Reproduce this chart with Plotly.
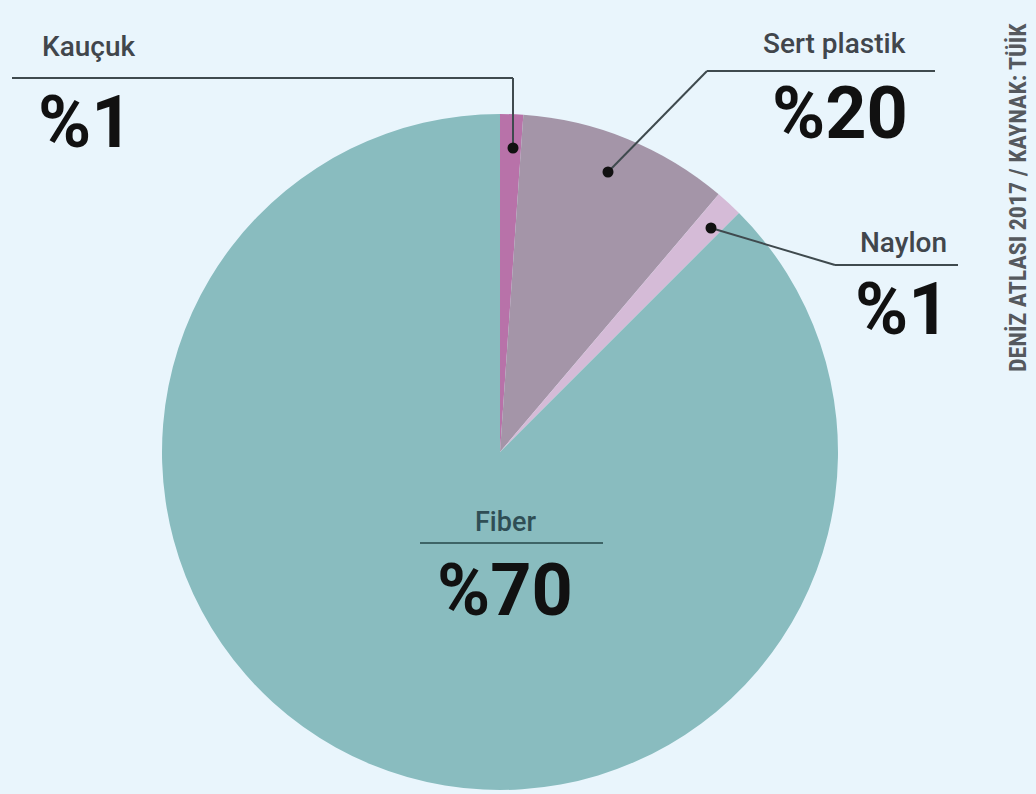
import plotly.graph_objects as go

# ---- data ----
categories = ["Kauçuk", "Sert plastik", "Naylon", "Fiber"]
drawn_share = [1.1, 10.1, 1.3, 87.5]          # slice sizes as drawn in the picture
label_pct = ["%1", "%20", "%1", "%70"]          # percentages printed on the chart
slice_colors = ["#B872A9", "#A495A8", "#D5BBD7", "#89BCBF"]
source_text = "DENİZ ATLASI 2017 / KAYNAK: TÜİK"

W, H = 1036, 794
BG = "#E9F5FC"
LBL = "#41464C"
NUM = "#111111"


def px(x):
    return x / W


def py(y):
    return 1 - y / H


cx, cy, r = 500, 452, 338

fig = go.Figure(go.Pie(
    labels=categories,
    values=drawn_share,
    sort=False,
    direction="clockwise",
    rotation=0,
    marker=dict(colors=slice_colors, line=dict(width=0)),
    textinfo="none",
    hoverinfo="label",
    showlegend=False,
    domain=dict(x=[px(cx - r), px(cx + r)], y=[py(cy + r), py(cy - r)]),
))

shapes = []

def seg(x0, y0, x1, y1, color="#3F4A4E", width=2):
    shapes.append(dict(type="line", xref="paper", yref="paper",
                       x0=px(x0), y0=py(y0), x1=px(x1), y1=py(y1),
                       line=dict(color=color, width=width)))

def dot(x, y, rr=5.5):
    shapes.append(dict(type="circle", xref="paper", yref="paper",
                       x0=px(x - rr), y0=py(y + rr), x1=px(x + rr), y1=py(y - rr),
                       fillcolor="#111111", line=dict(width=0)))

# Kauçuk leader
seg(12, 78, 513, 78)
seg(513, 78, 513, 148)
dot(513, 148)
# Sert plastik leader
seg(707, 71, 935, 71)
seg(707, 71, 608, 172)
dot(608, 172)
# Naylon leader
seg(711, 228, 835, 265)
seg(835, 265, 958, 265)
dot(711, 228)
# Fiber underline
seg(420, 543, 603, 543, color="#3E6466")

annotations = []

def txt(x, y, s, size, color, bold=False, xanchor="left", weight=None,
        family="Roboto"):
    f = dict(family=family, size=size, color=color)
    if weight:
        f["weight"] = weight
    annotations.append(dict(
        x=px(x), y=py(y), xref="paper", yref="paper", text=(f"<b>{s}</b>" if bold else s),
        showarrow=False, xanchor=xanchor, yanchor="middle", font=f))

NARROW = "Liberation Sans Narrow, Roboto Condensed, Roboto"

# category labels
txt(40, 47, categories[0], 28, LBL, weight=500)
txt(908, 44, categories[1], 28, LBL, xanchor="right", weight=500)
txt(949, 243, categories[2], 28, LBL, xanchor="right", weight=500)
txt(505, 522, categories[3], 27, "#2F4E55", xanchor="center", weight=500)

# percentages
txt(36, 122, label_pct[0], 72, NUM, bold=True)
txt(910, 113, label_pct[1], 72, NUM, bold=True, xanchor="right")
txt(952, 309, label_pct[2], 72, NUM, bold=True, xanchor="right")
txt(505, 590, label_pct[3], 72, NUM, bold=True, xanchor="center")

# source (vertical)
annotations.append(dict(
    x=px(1018), y=py(198), xref="paper", yref="paper",
    text=f"<b>{source_text}</b>", showarrow=False, textangle=-90,
    xanchor="center", yanchor="middle",
    font=dict(family=NARROW, size=24, color="#55595E")))

fig.update_layout(
    width=W, height=H,
    margin=dict(l=0, r=0, t=0, b=0),
    paper_bgcolor=BG, plot_bgcolor=BG,
    shapes=shapes, annotations=annotations,
)

fig.write_html("out.html", config={"displayModeBar": False},
               post_script="document.body.style.margin='0';document.body.style.overflow='hidden';")
